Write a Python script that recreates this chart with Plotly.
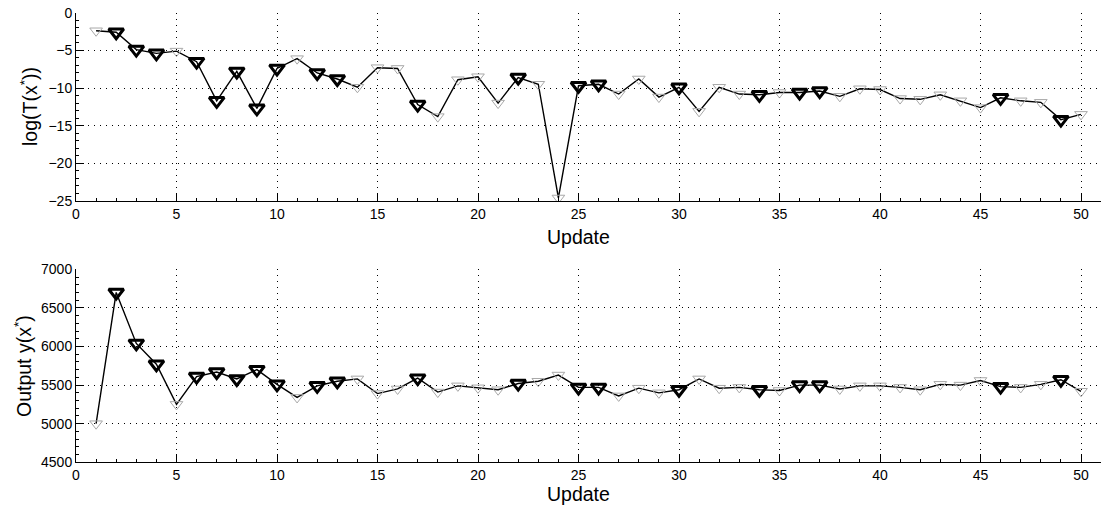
import plotly.graph_objects as go

updates = list(range(1, 51))

log_T = [-2.4, -2.6, -4.9, -5.4, -5.1, -6.5, -11.7, -7.8, -12.7, -7.4,
         -6.1, -8.0, -8.8, -9.9, -7.3, -7.4, -12.2, -13.8, -8.9, -8.5,
         -12.0, -8.6, -9.5, -24.6, -9.7, -9.5, -10.8, -8.8, -11.2, -9.9,
         -13.1, -9.9, -10.8, -10.9, -10.6, -10.6, -10.4, -11.1, -10.1, -10.2,
         -11.4, -11.5, -10.9, -11.7, -12.6, -11.3, -11.7, -11.9, -14.2, -13.5]

output_y = [5000, 6700, 6040, 5770, 5250, 5610, 5670, 5580, 5700, 5510,
            5340, 5490, 5550, 5580, 5390, 5450, 5590, 5410, 5490, 5465,
            5440, 5520, 5550, 5630, 5470, 5470, 5360, 5460, 5400, 5440,
            5580, 5460, 5470, 5440, 5430, 5500, 5500, 5450, 5490, 5490,
            5470, 5440, 5510, 5500, 5560, 5480, 5470, 5510, 5570, 5420]

accepted = [2, 3, 4, 6, 7, 8, 9, 10, 12, 13, 17, 22, 25, 26, 30, 34, 36, 37, 46, 49]

x_ticks = list(range(0, 51, 5))
top_ticks = [-25, -20, -15, -10, -5, 0]
bottom_ticks = [4500, 5000, 5500, 6000, 6500, 7000]

FONT = "Liberation Sans, Arial, Helvetica, sans-serif"

W, H = 1101, 506


def px(p):
    return p / W


def py(p):
    return 1 - p / H


fig = go.Figure()

panels = [
    (log_T, "x", "y"),
    (output_y, "x2", "y2"),
]
for vals, xa, ya in panels:
    fig.add_trace(go.Scatter(x=updates, y=vals, mode="lines",
                             line=dict(color="black", width=1.4),
                             xaxis=xa, yaxis=ya, showlegend=False, hoverinfo="skip"))
    fig.add_trace(go.Scatter(x=updates, y=vals, mode="markers",
                             marker=dict(symbol="triangle-down-open", size=11,
                                         color="#a8a8a8", line=dict(color="#a8a8a8", width=1)),
                             xaxis=xa, yaxis=ya, showlegend=False))
    ax = [u for u in updates if u in accepted]
    ay = [vals[u - 1] for u in ax]
    fig.add_trace(go.Scatter(x=ax, y=ay, mode="markers",
                             marker=dict(symbol="triangle-down-open", size=13,
                                         color="black", line=dict(color="black", width=3)),
                             xaxis=xa, yaxis=ya, showlegend=False))

GRID = dict(showgrid=True, gridcolor="black", griddash="1px,5px", gridwidth=1)
TICKS = dict(showline=True, linecolor="black", linewidth=1, mirror=False,
             ticks="inside", ticklen=8, tickcolor="black", zeroline=False,
             automargin=False,
             tickfont=dict(family=FONT, size=14, color="black"))

x_common = dict(range=[0, (1101 - 76) / 20.1], tickvals=x_ticks,
                minor=dict(dtick=1, ticks="inside", ticklen=3, tickcolor="black", showgrid=False),
                domain=[px(76), 1.0], **GRID, **TICKS)

fig.update_layout(
    width=W, height=H, autosize=False,
    margin=dict(l=0, r=0, t=0, b=0, pad=0, autoexpand=False),
    paper_bgcolor="white", plot_bgcolor="white",
    xaxis=dict(anchor="y", **x_common),
    xaxis2=dict(anchor="y2", **x_common),
    yaxis=dict(anchor="x", range=[-25, 0], tickvals=top_ticks,
               domain=[py(201), py(12.7)],
               minor=dict(dtick=1, ticks="inside", ticklen=3, tickcolor="black", showgrid=False),
               **GRID, **TICKS),
    yaxis2=dict(anchor="x2", range=[4500, 7000], tickvals=bottom_ticks,
                domain=[py(462.3), py(269.3)],
                minor=dict(dtick=100, ticks="inside", ticklen=3, tickcolor="black", showgrid=False),
                **GRID, **TICKS),
    annotations=[
        dict(text="Update", x=25, y=py(237), xref="x", yref="paper",
             xanchor="center", yanchor="middle",
             showarrow=False, font=dict(family=FONT, size=19.5, color="black")),
        dict(text="Update", x=25, y=py(494), xref="x2", yref="paper",
             xanchor="center", yanchor="middle",
             showarrow=False, font=dict(family=FONT, size=19.5, color="black")),
        dict(text="log(T(x<sup>*</sup>))", x=px(29), y=py(107), xref="paper", yref="paper",
             xanchor="center", yanchor="middle",
             textangle=-90, showarrow=False, font=dict(family=FONT, size=19.5, color="black")),
        dict(text="Output y(x<sup>*</sup>)", x=px(23), y=py(366), xref="paper", yref="paper",
             xanchor="center", yanchor="middle",
             textangle=-90, showarrow=False, font=dict(family=FONT, size=19.5, color="black")),
    ],
)

fig.write_html(
    "out.html",
    config={"displayModeBar": False},
    post_script="document.body.style.margin='0px';document.body.style.overflow='hidden';",
)
